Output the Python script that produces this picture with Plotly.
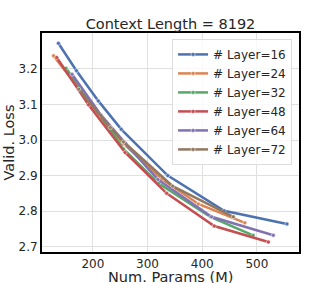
import plotly.graph_objects as go

names = ["# Layer=16", "# Layer=24", "# Layer=32", "# Layer=48", "# Layer=64", "# Layer=72"]
colors = ["#4C72B0", "#DD8452", "#55A868", "#C44E52", "#8172B3", "#937860"]

x16 = [137, 170, 210, 252, 337, 440, 555]
y16 = [3.272, 3.195, 3.110, 3.030, 2.900, 2.801, 2.764]
x24 = [128, 175, 232, 256, 326, 393, 478]
y24 = [3.237, 3.143, 3.030, 2.990, 2.890, 2.820, 2.767]
x32 = [151, 200, 256, 320, 415, 493]
y32 = [3.202, 3.100, 2.975, 2.878, 2.784, 2.732]
x48 = [134, 192, 259, 335, 422, 521]
y48 = [3.232, 3.099, 2.965, 2.850, 2.758, 2.713]
x64 = [162, 215, 260, 319, 417, 530]
y64 = [3.185, 3.070, 2.990, 2.889, 2.784, 2.732]
x72 = [174, 232, 256, 346, 457]
y72 = [3.143, 3.035, 2.995, 2.870, 2.784]

xs = [x16, x24, x32, x48, x64, x72]
ys = [y16, y24, y32, y48, y64, y72]

x_ticks = [200, 300, 400, 500]
y_ticks = [2.7, 2.8, 2.9, 3.0, 3.1, 3.2]

fig = go.Figure()
for n, c, x, y in zip(names, colors, xs, ys):
    fig.add_trace(go.Scatter(
        x=x, y=y, name=n, mode="lines+markers",
        line=dict(color=c, width=2.5),
        marker=dict(color=c, size=4, line=dict(color="white", width=0.5)),
    ))

font = "DejaVu Sans"
L, R, T, B, W, H = 42, 33, 33, 31, 332, 283
pw, ph = W - L - R, H - T - B
fig.update_layout(
    width=W, height=H,
    margin=dict(l=L, r=R, t=T, b=B, autoexpand=False),
    paper_bgcolor="white", plot_bgcolor="white",
    font=dict(family=font, color="#262626", size=12),
    title=dict(text="Context Length = 8192", x=0.5, xref="paper", xanchor="center",
               y=1 - 24 / H, yref="container", yanchor="middle",
               font=dict(size=14.5, color="#262626")),
    showlegend=True,
    legend=dict(x=0.973, y=0.973, xanchor="right", yanchor="top",
                bgcolor="rgba(255,255,255,0.8)", bordercolor="#dddddd", borderwidth=1,
                font=dict(size=12, color="#262626"), tracegroupgap=0),
    annotations=[
        dict(text="Num. Params (M)", xref="paper", yref="paper", x=0.5, y=-(276.5 - (H - B)) / ph,
             xanchor="center", yanchor="middle", showarrow=False, font=dict(size=14.5)),
        dict(text="Valid. Loss", xref="paper", yref="paper", x=-(L - 8) / pw, y=0.5,
             xanchor="center", yanchor="middle", textangle=-90, showarrow=False,
             font=dict(size=14.5)),
    ],
)
fig.update_xaxes(range=[107, 577], tickvals=x_ticks, showgrid=True, gridcolor="#e0e0e0",
                 gridwidth=1, showline=True, linecolor="black", linewidth=2, mirror=True,
                 ticks="", zeroline=False, tickfont=dict(size=12), automargin=False)
fig.update_yaxes(range=[2.685, 3.301], tickvals=y_ticks, tickformat=".1f", showgrid=True,
                 gridcolor="#e0e0e0", gridwidth=1, showline=True, linecolor="black",
                 linewidth=2, mirror=True, ticks="", zeroline=False, tickfont=dict(size=12),
                 automargin=False)

fig.write_html("out.html", config={"displayModeBar": False},
               post_script="document.body.style.margin='0';")
